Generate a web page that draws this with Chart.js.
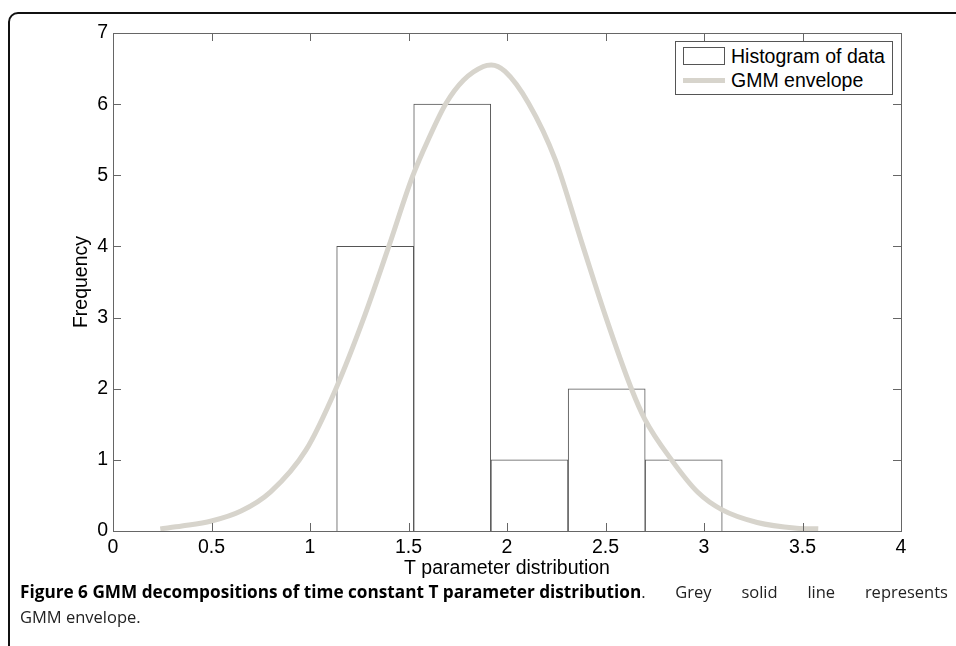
<!DOCTYPE html>
<html>
<head>
<meta charset="utf-8">
<script src="https://cdn.jsdelivr.net/npm/chart.js@4.4.1/dist/chart.umd.min.js"></script>
<style>
  body { margin: 0; background: #fff; }
  #wrap { position: relative; width: 956px; height: 646px; overflow: hidden; background: #fff; }
  #frame { position: absolute; left: 8px; top: 12px; width: 1000px; height: 700px;
           border: 2px solid #111; border-radius: 10px; box-sizing: border-box; }
  canvas { position: absolute; left: 0; top: 0; }
  #legend { position: absolute; left: 675px; top: 41px; width: 218px; height: 54px;
            border: 1px solid #555; background: #fff; box-sizing: border-box;
            font: 19.5px "Liberation Sans", Arial, sans-serif; color: #000; }
  .item { position: absolute; left: 7px; height: 22px; display: flex; align-items: center; }
  .sw { width: 42px; height: 18px; margin-right: 6px; box-sizing: border-box; }
  #caption { position: absolute; left: 20px; top: 579px; width: 928px;
             font: 16.5px "Open Sans", sans-serif; color: #222; line-height: 25px; }
  #caption .l1 { display: flex; justify-content: space-between; align-items: baseline; }
  #caption b { color: #000; font-size: 17.2px; }
</style>
</head>
<body>
<div id="wrap">
  <div id="frame"></div>
  <canvas id="c" width="956" height="646"></canvas>
  <div id="legend"></div>
  <div id="caption">
    <div class="l1"><span><b>Figure 6 GMM decompositions of time constant T parameter distribution</b>.</span><span>Grey</span><span>solid</span><span>line</span><span>represents</span></div>
    <div>GMM envelope.</div>
  </div>
</div>
<script>
// histogram bins (centres) and counts
const binCenters = [1.331, 1.722, 2.114, 2.506, 2.897];
const binCounts = [4, 6, 1, 2, 1];

// GMM envelope
const gmmX = [0.24, 0.35, 0.5, 0.65, 0.8, 0.98, 1.13, 1.27, 1.40, 1.52, 1.6, 1.69, 1.78, 1.88, 1.92,
              1.99, 2.11, 2.245, 2.38, 2.5, 2.63, 2.70, 2.835, 2.97, 3.09, 3.27, 3.47, 3.58];
const gmmY = [0.03, 0.07, 0.14, 0.28, 0.55, 1.14, 1.99, 2.97, 4.0, 4.98, 5.5, 6.01, 6.34, 6.53, 6.55,
              6.46, 6.01, 5.22, 4.05, 3.02, 2.01, 1.57, 1.0, 0.54, 0.30, 0.12, 0.04, 0.03];

const xTicks = ["0", "0.5", "1", "1.5", "2", "2.5", "3", "3.5", "4"];
const yTicks = ["0", "1", "2", "3", "4", "5", "6", "7"];

const axisFont = { family: "'Liberation Sans', Arial, sans-serif", size: 19.5 };
const curveColor = "#d7d4cc";
const boxColor = "#666";

// plot box + inward ticks, matlab style
const boxTicks = {
    id: "boxTicks",
    afterDatasetsDraw(chart) {
        const { ctx, chartArea: a, scales: { x, y } } = chart;
        const len = 8;
        ctx.save();
        ctx.strokeStyle = boxColor;
        ctx.lineWidth = 1;
        ctx.beginPath();
        x.ticks.forEach(t => {
            const px = Math.round(x.getPixelForValue(t.value)) + 0.5;
            ctx.moveTo(px, a.bottom); ctx.lineTo(px, a.bottom - len);
            ctx.moveTo(px, a.top); ctx.lineTo(px, a.top + len);
        });
        y.ticks.forEach(t => {
            const py = Math.round(y.getPixelForValue(t.value)) + 0.5;
            ctx.moveTo(a.left, py); ctx.lineTo(a.left + len, py);
            ctx.moveTo(a.right, py); ctx.lineTo(a.right - len, py);
        });
        ctx.stroke();
        ctx.strokeRect(Math.round(a.left) + 0.5, Math.round(a.top) + 0.5,
                       Math.round(a.right - a.left), Math.round(a.bottom - a.top));
        ctx.restore();
    }
};

const chart = new Chart(document.getElementById("c"), {
    type: "bar",
    data: {
        datasets: [
            {
                label: "Histogram of data",
                data: binCenters.map((c, i) => ({ x: c, y: binCounts[i] })),
                backgroundColor: "#fff",
                borderColor: "#555",
                borderWidth: 1,
                barPercentage: 1,
                categoryPercentage: 1,
                grouped: false,
                order: 2
            },
            {
                type: "line",
                label: "GMM envelope",
                data: gmmX.map((v, i) => ({ x: v, y: gmmY[i] })),
                borderColor: curveColor,
                borderWidth: 5,
                pointRadius: 0,
                tension: 0.4,
                cubicInterpolationMode: "monotone",
                fill: false,
                order: 1
            }
        ]
    },
    options: {
        responsive: false,
        animation: false,
        devicePixelRatio: 1,
        layout: { padding: { left: 70, top: 33, right: 55, bottom: 66 } },
        plugins: { legend: { display: false }, tooltip: { enabled: false } },
        scales: {
            x: {
                type: "linear",
                min: 0, max: 4,
                offset: false,
                grid: { display: false, drawTicks: false },
                border: { display: false },
                ticks: {
                    stepSize: 0.5,
                    font: axisFont,
                    color: "#000",
                    padding: 5,
                    maxRotation: 0,
                    callback: (v) => xTicks[Math.round(v * 2)]
                },
                title: { display: true, text: "T parameter distribution", font: axisFont, color: "#000", padding: 0 },
                afterFit: (s) => { s.height = 49; }
            },
            y: {
                min: 0, max: 7,
                grid: { display: false, drawTicks: false },
                border: { display: false },
                ticks: {
                    stepSize: 1,
                    font: axisFont,
                    color: "#000",
                    padding: 5,
                    callback: (v) => yTicks[v]
                },
                title: { display: true, text: "Frequency", font: axisFont, color: "#000", padding: 0 },
                afterFit: (s) => { s.width = 43; }
            }
        }
    },
    plugins: [boxTicks]
});

// legend built from the datasets
const legend = document.getElementById("legend");
chart.data.datasets.forEach((ds, i) => {
    const item = document.createElement("div");
    item.className = "item";
    item.style.top = (3 + i * 24) + "px";
    const sw = document.createElement("div");
    sw.className = "sw";
    if (ds.type === "line") {
        sw.style.height = "5px";
        sw.style.background = ds.borderColor;
    } else {
        sw.style.border = "1px solid " + ds.borderColor;
    }
    item.appendChild(sw);
    item.appendChild(document.createTextNode(ds.label));
    legend.appendChild(item);
});
</script>
</body>
</html>
